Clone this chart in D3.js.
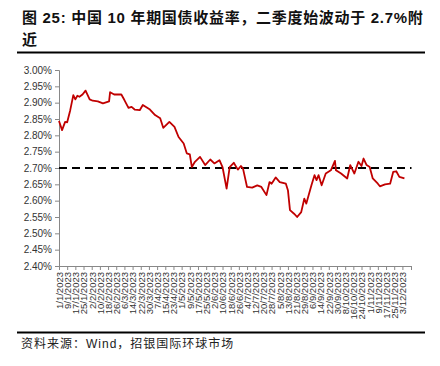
<!DOCTYPE html>
<html>
<head>
<meta charset="utf-8">
<script src="https://cdn.jsdelivr.net/npm/d3@7"></script>
<style>
  body { margin: 0; background: #fff; }
  svg { display: block; }
</style>
</head>
<body>
<div id="chart"></div>
<script>
// 10Y CGB yield
var dates = ["2023-01-01","2023-01-04","2023-01-07","2023-01-09","2023-01-12","2023-01-15","2023-01-17","2023-01-19","2023-01-21","2023-01-24","2023-01-27",
  "2023-01-31","2023-02-03","2023-02-08","2023-02-13","2023-02-19","2023-02-20","2023-02-24","2023-03-03","2023-03-06","2023-03-10",
  "2023-03-13","2023-03-16","2023-03-21","2023-03-24","2023-03-31","2023-04-05","2023-04-10","2023-04-13","2023-04-19","2023-04-24","2023-04-28",
  "2023-05-03","2023-05-06","2023-05-09","2023-05-11","2023-05-14","2023-05-19","2023-05-24","2023-05-29","2023-06-02","2023-06-07",
  "2023-06-10","2023-06-14","2023-06-17","2023-06-21","2023-06-25","2023-06-28","2023-06-30","2023-07-04","2023-07-09","2023-07-14",
  "2023-07-18","2023-07-23","2023-07-26","2023-07-28","2023-08-01","2023-08-05","2023-08-11","2023-08-13","2023-08-15","2023-08-19",
  "2023-08-22","2023-08-26","2023-08-29","2023-08-31","2023-09-05","2023-09-08","2023-09-10","2023-09-12","2023-09-15","2023-09-19",
  "2023-09-24","2023-09-28","2023-09-29","2023-10-04","2023-10-10","2023-10-13","2023-10-17","2023-10-21","2023-10-24","2023-10-26",
  "2023-10-29","2023-11-01","2023-11-04","2023-11-09","2023-11-11","2023-11-16","2023-11-21","2023-11-24","2023-11-27","2023-11-30",
  "2023-12-05"];
var yields = [2.844,2.816,2.841,2.840,2.877,2.923,2.910,2.921,2.918,2.925,2.937,
  2.910,2.906,2.904,2.898,2.904,2.932,2.925,2.925,2.908,2.884,
  2.887,2.879,2.877,2.893,2.879,2.862,2.852,2.823,2.841,2.826,2.795,
  2.775,2.745,2.742,2.703,2.719,2.734,2.709,2.726,2.714,2.724,
  2.703,2.637,2.703,2.716,2.695,2.706,2.699,2.642,2.640,2.647,
  2.642,2.617,2.657,2.652,2.671,2.657,2.652,2.632,2.571,2.560,
  2.550,2.565,2.606,2.591,2.647,2.678,2.663,2.678,2.647,2.683,
  2.693,2.722,2.693,2.683,2.668,2.709,2.683,2.719,2.706,2.729,
  2.709,2.703,2.668,2.652,2.644,2.650,2.652,2.688,2.690,2.673,
  2.668];
var refLevel = 2.70;
var yTicks = [2.40,2.45,2.50,2.55,2.60,2.65,2.70,2.75,2.80,2.85,2.90,2.95,3.00];
// x labels every 8 days from 1/1/2023
var xTickDates = d3.timeDay.range(new Date(2023,0,1), new Date(2023,11,4), 8);

var width = 440, height = 366;
var plotLeft = 59, plotRight = 411.5, plotTop = 70, plotBottom = 266;

var parse = d3.timeParse("%Y-%m-%d");
var data = dates.map(function (d, i) { return {date: parse(d), value: yields[i]}; });

var svg = d3.select("#chart").append("svg")
    .attr("width", width)
    .attr("height", height)
    .style("font-family", "'Liberation Sans', Arial, sans-serif");

// title
var title = svg.append("text")
    .attr("x", 22)
    .attr("y", 23)
    .style("font-family", "'Liberation Sans', 'Noto Sans CJK SC', sans-serif")
    .style("font-size", "15px")
    .style("font-weight", "bold")
    .style("letter-spacing", "0.7px")
    .attr("fill", "#111");
title.append("tspan").text("图 25: 中国 10 年期国债收益率，二季度始波动于 2.7%附");
title.append("tspan").attr("x", 22).attr("dy", 22).text("近");

svg.append("line")
    .attr("x1", 17).attr("x2", 425)
    .attr("y1", 52.5).attr("y2", 52.5)
    .attr("stroke", "#000").attr("stroke-width", 2);

var x = d3.scaleTime()
    .domain([new Date(2023,0,1), new Date(2023,11,12)])
    .range([plotLeft, plotLeft + 345 * 1.022]);
var y = d3.scaleLinear().domain([2.40, 3.00]).range([plotBottom, plotTop]);

// y axis
var yAxis = svg.append("g")
    .attr("transform", "translate(" + plotLeft + ",0)")
    .call(d3.axisLeft(y).tickValues(yTicks).tickSize(4).tickPadding(3)
        .tickFormat(function (d) { return d.toFixed(2) + "%"; }));
yAxis.select(".domain").attr("stroke", "#888");
yAxis.selectAll(".tick line").attr("stroke", "#888");
yAxis.selectAll("text").style("font-size", "10px").attr("fill", "#333");

// x axis
var xAxis = svg.append("g")
    .attr("transform", "translate(0," + plotBottom + ")")
    .call(d3.axisBottom(x).tickValues(xTickDates).tickSize(4).tickSizeOuter(0)
        .tickFormat(function (d) { return d.getDate() + "/" + (d.getMonth() + 1) + "/" + d.getFullYear(); }));
xAxis.select(".domain").attr("d", "M" + plotLeft + ",0.5H" + plotRight).attr("stroke", "#888");
xAxis.selectAll(".tick line").attr("stroke", "#888");
xAxis.selectAll("text")
    .style("font-size", "9.5px")
    .attr("fill", "#333")
    .attr("text-anchor", "end")
    .attr("dy", "0.35em")
    .attr("transform", "translate(0,6) rotate(-90)")
    .attr("x", 0).attr("y", 0);
svg.append("line")
    .attr("x1", plotRight).attr("x2", plotRight)
    .attr("y1", plotBottom).attr("y2", plotBottom + 4)
    .attr("stroke", "#888");

// 2.7% reference line
svg.append("line")
    .attr("x1", plotLeft).attr("x2", plotRight)
    .attr("y1", y(refLevel)).attr("y2", y(refLevel))
    .attr("stroke", "#000")
    .attr("stroke-width", 2)
    .attr("stroke-dasharray", "8,5");

// yield line
var line = d3.line()
    .x(function (d) { return x(d.date); })
    .y(function (d) { return y(d.value); });
svg.append("path")
    .datum(data)
    .attr("d", line)
    .attr("fill", "none")
    .attr("stroke", "#c00000")
    .attr("stroke-width", 1.8)
    .attr("stroke-linejoin", "round");

// source
svg.append("line")
    .attr("x1", 17).attr("x2", 425)
    .attr("y1", 332.5).attr("y2", 332.5)
    .attr("stroke", "#000").attr("stroke-width", 2);
svg.append("text")
    .attr("x", 21)
    .attr("y", 348)
    .style("font-family", "'Liberation Sans', 'Noto Sans CJK SC', sans-serif")
    .style("font-size", "12px")
    .style("letter-spacing", "1px")
    .attr("fill", "#222")
    .text("资料来源：Wind，招银国际环球市场");
</script>
</body>
</html>
